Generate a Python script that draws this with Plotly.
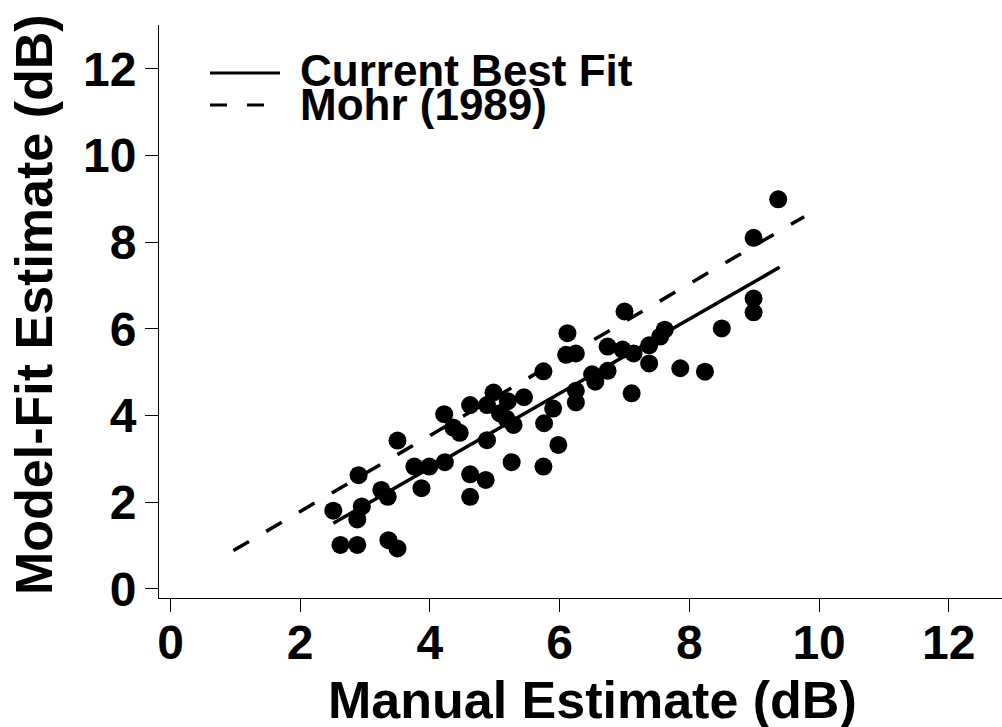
import plotly.graph_objects as go

# ---- data ----
manual_x = [2.51, 2.62, 2.88, 2.90, 2.88, 2.95, 3.25, 3.35, 3.36, 3.50, 3.50, 3.76,
            3.87, 3.99, 4.23, 4.22, 4.36, 4.46, 4.62, 4.62, 4.62, 4.86, 4.88, 4.88,
            4.98, 5.08, 5.20, 5.18, 5.29, 5.26, 5.45, 5.75, 5.76, 5.75, 5.90, 5.98,
            6.12, 6.10, 6.25, 6.25, 6.25, 6.50, 6.55, 6.74, 6.74, 6.97, 7.00, 7.14,
            7.11, 7.38, 7.38, 7.55, 7.62, 7.86, 8.24, 8.50, 8.99, 8.99, 8.99, 9.37]
model_y = [1.80, 1.01, 1.01, 2.62, 1.60, 1.90, 2.28, 2.12, 1.12, 0.93, 3.42, 2.82,
           2.32, 2.82, 2.92, 4.03, 3.72, 3.60, 4.24, 2.64, 2.12, 2.51, 3.43, 4.24,
           4.53, 4.05, 4.33, 3.92, 3.78, 2.92, 4.42, 5.02, 3.82, 2.82, 4.16, 3.32,
           5.90, 5.40, 5.43, 4.57, 4.30, 4.95, 4.78, 5.03, 5.59, 5.52, 6.40, 5.43,
           4.51, 5.20, 5.62, 5.82, 5.98, 5.09, 5.01, 6.01, 6.38, 6.70, 8.10, 8.99]

best_fit_x = [2.51, 9.39]
best_fit_y = [1.51, 7.42]
mohr_x = [0.97, 9.77]
mohr_y = [0.88, 8.59]

tick_vals = [0, 2, 4, 6, 8, 10, 12]
tick_text = ["0", "2", "4", "6", "8", "10", "12"]

legend_labels = ["Current Best Fit", "Mohr (1989)"]
x_title = "Manual Estimate (dB)"
y_title = "Model-Fit Estimate (dB)"

# ---- layout geometry (pixels) ----
W, H = 1002, 727
L, R, T, B = 159, 0, 25, 129
PW, PH = W - L - R, H - T - B
FONT = "Liberation Sans, Arial, Helvetica, sans-serif"


def px(xp):
    return (xp - L) / PW


def py(yp):
    return (H - B - yp) / PH


fig = go.Figure()
fig.add_trace(go.Scatter(x=manual_x, y=model_y, mode="markers",
                         marker=dict(size=18, color="black", line=dict(width=0)),
                         showlegend=False))
fig.add_trace(go.Scatter(x=best_fit_x, y=best_fit_y, mode="lines",
                         line=dict(color="black", width=3.5), showlegend=False))
fig.add_trace(go.Scatter(x=mohr_x, y=mohr_y, mode="lines",
                         line=dict(color="black", width=3.5, dash="18px,20px"),
                         showlegend=False))

axis_common = dict(
    showline=True, linecolor="black", linewidth=1,
    ticks="outside", ticklen=13, tickwidth=1, tickcolor="black",
    tickvals=tick_vals, ticktext=tick_text,
    tickfont=dict(family=FONT, size=48, color="black", weight="bold"),
    showgrid=False, zeroline=False, mirror=False,
)

fig.update_layout(
    width=W, height=H,
    margin=dict(l=L, r=R, t=T, b=B, pad=0),
    paper_bgcolor="white", plot_bgcolor="white",
    xaxis=dict(range=[-0.177, 12.82], ticklabelstandoff=-11, **axis_common),
    yaxis=dict(range=[-0.215, 13.015], ticklabelstandoff=-1, **axis_common),
    showlegend=False,
)

# legend drawn by hand (line samples + labels)
fig.add_shape(type="line", xref="paper", yref="paper",
              x0=px(210), x1=px(280), y0=py(73), y1=py(73),
              line=dict(color="black", width=3))
fig.add_shape(type="line", xref="paper", yref="paper",
              x0=px(210), x1=px(264), y0=py(105), y1=py(105),
              line=dict(color="black", width=3, dash="17px,20px"))
for lab, yc in zip(legend_labels, [70, 104]):
    fig.add_annotation(text=lab, xref="paper", yref="paper", x=px(298), y=py(yc),
                       xanchor="left", yanchor="middle", showarrow=False,
                       font=dict(family=FONT, size=44, color="black", weight="bold"))

# axis titles
fig.add_annotation(text=x_title, xref="paper", yref="paper", x=px(592), y=py(700),
                   xanchor="center", yanchor="middle", showarrow=False,
                   font=dict(family=FONT, size=52, color="black", weight="bold"))
fig.add_annotation(text=y_title, xref="paper", yref="paper", x=px(34), y=py(305),
                   xanchor="center", yanchor="middle", showarrow=False, textangle=-90,
                   font=dict(family=FONT, size=52, color="black", weight="bold"))

fig.write_html("out.html")
